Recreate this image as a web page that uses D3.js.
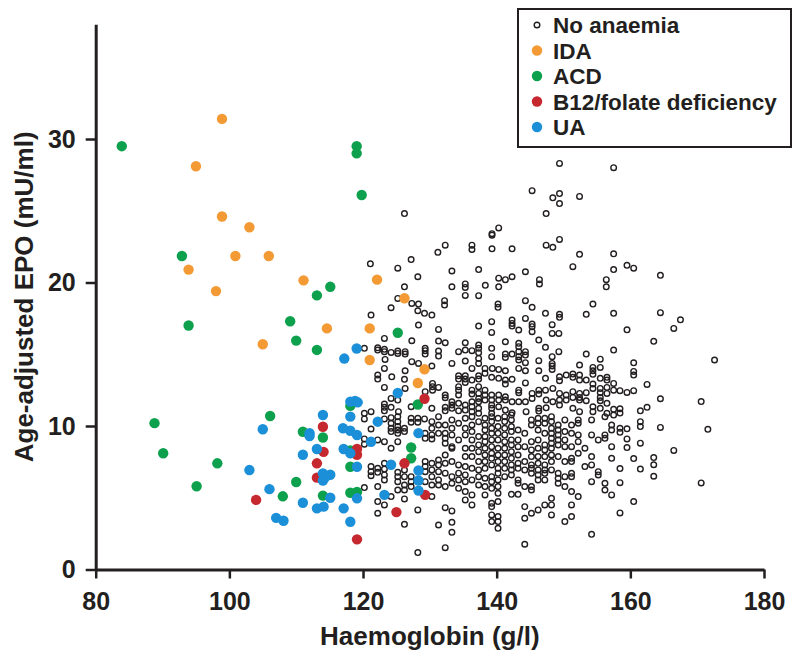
<!DOCTYPE html>
<html><head><meta charset="utf-8">
<script src="https://cdn.jsdelivr.net/npm/d3@7"></script>
<style>
html,body{margin:0;padding:0;background:#fff;}
svg text{font-family:"Liberation Sans",Arial,Helvetica,sans-serif;font-weight:bold;fill:#231f20;}
</style></head>
<body><svg id="c" width="800" height="659"></svg>
<script>
// ---- data: [haemoglobin g/l, age-adjusted EPO mU/ml] ----
const noAnaemia = [
[126.2,24.8],[132.3,22.6],[131.2,22.1],[127.2,21.6],[121.1,21.3],[125.2,21.0],[128.2,20.4],[133.3,20.8],[126.2,19.7],[133.3,19.7],[135.3,19.9],[135.3,19.66],
[149.4,28.3],[145.3,26.4],[148.4,25.9],[149.4,26.2],[149.4,25.5],[152.4,26.0],[147.4,24.8],[140.3,23.8],[139.3,23.4],[139.3,23.3],[149.4,23.0],[147.4,22.6],[148.4,22.45],[152.4,21.96],[136.3,22.6],[136.3,22.3],[139.3,22.35],[142.3,22.35],[137.3,20.9],[151.4,21.1],[144.3,20.75],[140.3,20.3],[141.3,20.2],[142.3,20.4],[138.3,19.8],[140.3,19.7],[146.4,20.2],[146.4,19.9],[156.4,20.2],[156.4,19.7],
[157.5,28.0],[157.5,22.0],[157.5,20.9],[159.5,21.2],[160.5,21.0],[164.5,20.5],
[135.3,19.1],[137.3,19.08],[125.2,18.89],[127.3,18.54],[128.3,18.5],[132.2,18.73],[132.2,18.43],[124.2,18.24],[128.2,18.03],[129.2,17.85],[130.3,17.73],[121.2,17.73],[128.3,17.03],[131.3,16.73],[137.3,16.96],[123.2,16.1],[127.3,15.94],[131.3,15.92],[132.3,15.8],[135.3,15.8],[137.3,15.64],
[120.2,15.41],[122.2,15.45],[122.2,15.29],[123.2,15.34],[123.2,15.18],[124.2,15.13],[125.2,15.22],[125.2,15.06],[126.3,15.18],[126.3,15.01],[129.3,15.41],[129.3,15.25],[129.3,15.01],[131.3,15.22],[134.3,15.18],[135.3,15.29],[136.3,15.25],[137.3,15.41],[137.3,15.11],
[131.3,14.87],[135.3,14.53],[137.3,14.71],[137.3,14.36],[123.3,14.64],[127.3,14.48],[128.3,14.36],[133.3,14.36],[130.3,14.18],[126.3,13.85],[123.2,14.01],[136.3,14.01],
[134.3,13.5],[134.3,13.27],[135.3,13.5],[135.3,13.27],[135.3,13.04],[137.3,13.5],[137.3,13.27],[136.3,13.2],[122.2,13.55],[122.2,13.27],[124.3,13.43],[126.2,13.25],
[130.4,12.97],[130.4,12.74],[130.4,12.5],[129.3,12.39],[131.3,12.69],[123.2,12.69],[126.3,12.62],[132.3,12.16],[132.3,11.97],[134.3,12.74],[134.3,12.5],[134.3,12.16],[136.3,12.5],[136.3,12.23],[137.3,12.74],[137.3,12.27],[137.3,11.92],
[130.3,11.23],[127.2,11.34],[124.2,11.92],[125.2,11.81],[123.2,11.53],[123.2,11.3],[123.2,11.06],[124.2,11.3],[121.2,11.0],[120.2,10.88],[125.3,11.0],
[133.3,11.69],[133.3,11.46],[133.3,11.23],[132.3,11.3],[132.3,11.06],[134.3,11.58],[134.3,11.06],[135.3,11.46],[135.3,11.11],[136.3,11.69],[136.3,11.34],[136.3,11.0],[137.3,11.69],[137.3,11.23],[137.3,10.88],
[144.3,18.73],[145.3,18.27],[140.2,18.5],[140.2,18.27],[147.3,17.85],[149.4,17.78],[149.4,17.57],[154.4,18.5],[153.4,17.78],[157.5,17.85],[139.25,17.27],[142.3,17.38],[142.3,17.15],[142.3,16.96],[144.3,17.5],[145.3,17.1],[145.3,16.92],[143.3,16.69],[145.3,16.57],[148.3,17.06],[148.3,16.45],[149.3,16.45],[139.25,16.52],
[141.3,15.87],[143.3,15.76],[143.3,15.53],[146.3,15.99],[147.3,15.48],[149.3,15.18],[139.25,15.41],[139.25,14.83],[141.3,15.01],[141.3,14.78],[142.3,15.01],[143.3,15.18],[143.3,14.83],[143.3,14.6],[144.3,15.18],[144.3,14.94],[144.3,14.41],[153.4,15.01],[157.5,15.29],[155.5,14.66],[146.3,14.55],
[148.3,14.83],[148.3,14.36],[148.3,14.18],[148.3,13.94],[152.4,14.25],[154.4,14.08],[154.4,13.85],[154.4,13.6],[155.5,14.08],[138.25,14.01],[138.25,13.67],[139.35,14.01],[140.3,13.94],[141.3,13.85],[143.3,14.01],[144.3,13.85],[146.3,13.85],[147.3,13.32],
[150.4,13.55],[151.4,13.62],[151.4,13.39],[149.4,13.43],[149.4,13.16],[152.4,13.55],[152.4,13.2],[153.4,13.2],[155.5,13.32],[156.5,13.39],[156.5,13.2],[139.25,13.39],[140.3,13.32],[141.3,13.2],[141.3,12.92],[142.3,13.25],[143.3,12.5],[143.3,12.32],[144.3,13.0],[145.3,12.27],
[146.3,12.5],[146.3,12.23],[147.3,12.5],[148.4,12.62],[149.4,12.27],[150.4,12.16],[151.4,12.39],[151.4,11.99],[152.4,12.27],[152.4,11.99],[153.4,12.32],[154.4,12.92],[154.4,12.62],[155.5,12.62],[155.5,12.32],[155.5,11.99],[156.5,12.69],[156.5,12.27],[157.5,12.97],[157.5,12.5],
[138.25,12.5],[138.25,12.16],[138.25,11.81],[139.25,12.16],[139.25,11.81],[139.25,11.46],[139.25,11.23],[139.25,10.88],[140.3,12.16],[140.3,11.81],[140.3,11.34],[141.3,12.04],[141.3,11.81],[141.3,11.11],[142.3,11.69],[142.3,10.92],[143.3,11.69],[144.3,11.69],[145.3,11.92],
[146.3,11.23],[146.3,11.04],[147.4,11.81],[147.4,11.27],[148.4,11.69],[149.4,11.81],[149.4,11.46],[150.4,11.81],[151.4,11.23],[152.4,11.81],[152.4,11.0],[153.4,11.76],[154.4,11.34],[154.4,11.0],[155.5,11.76],[155.5,11.23],[156.5,11.58],[156.5,10.88],[157.5,11.16],[157.5,10.76],[144.4,11.0],
[164.5,17.9],[167.5,17.4],[166.5,16.8],[159.5,16.7],[163.5,15.9],[172.6,14.6],[160.5,14.4],[160.5,13.8],[160.5,13.55],[162.5,12.9],[158.45,12.46],[159.5,12.34],[160.5,12.46],[164.5,11.9],[170.6,11.7],[158.45,11.2],[158.45,10.9],[161.5,11.06],[162.5,11.3],
[120.2,10.49],[123.2,10.49],[124.2,10.58],[125.2,10.65],[124.2,10.19],[124.2,9.84],[124.2,9.61],[125.2,10.3],[125.2,9.96],[125.2,9.72],[125.2,9.49],[121.2,9.79],[126.2,9.84],[126.2,9.61],[127.2,10.54],[128.2,10.54],[129.2,10.49],[127.2,10.26],[128.2,10.26],
[130.3,10.3],[130.3,9.84],[129.3,9.49],[129.3,9.14],[130.3,9.38],[130.3,9.1],[131.3,10.65],[131.3,10.07],[131.3,9.49],[132.3,10.07],[132.3,9.49],[132.3,9.14],[132.3,8.8],[133.3,10.42],[133.3,9.84],[133.3,9.38],[133.3,8.56],[134.3,10.19],[134.3,9.03],
[135.3,10.54],[135.3,9.84],[135.3,9.38],[135.3,8.45],[136.3,10.65],[136.3,10.07],[136.3,9.61],[136.3,9.03],[136.3,8.45],[137.3,10.3],[137.3,9.26],[137.3,8.68],[137.3,8.21],
[120.2,9.1],[120.2,8.73],[122.2,9.03],[123.2,8.91],[124.2,8.45],[125.2,8.91],[121.2,7.17],[121.2,6.82],[121.2,6.54],[122.2,7.05],[122.2,6.77],[123.2,7.4],[123.2,7.0],[123.2,6.59],[123.2,6.24],[125.2,6.77],[125.2,6.47],[125.2,6.12],
[126.2,6.94],[126.2,6.47],[126.2,5.89],[126.2,5.54],[127.2,6.47],[127.2,6.12],[127.2,5.78],[129.3,7.52],[129.3,7.17],[129.3,6.82],[129.3,6.12],[130.3,7.4],[130.3,6.94],[130.3,6.47],[130.3,5.89],[130.3,5.08],
[131.3,7.63],[131.3,7.29],[131.3,6.82],[131.3,6.24],[131.3,5.89],[132.3,7.98],[132.3,7.4],[132.3,6.71],[132.3,5.78],[133.3,8.45],[133.3,7.52],[133.3,6.47],[133.3,6.01],[134.3,7.29],[134.3,6.71],[134.3,6.24],[134.3,5.66],
[135.3,7.87],[135.3,7.17],[135.3,6.59],[135.3,6.12],[135.3,5.43],[135.3,4.85],[136.3,7.87],[136.3,7.05],[136.3,6.24],[136.3,5.2],[136.3,4.5],[137.3,7.52],[137.3,6.94],[137.3,6.47],[137.3,5.89],
[122.2,5.78],[122.2,4.73],[122.2,3.92],[120.2,5.71],[123.2,4.5],[124.2,5.08],[125.2,5.54],[126.2,4.92],[128.2,4.15],[126.2,3.15],[132.3,4.31],[133.3,4.08],[133.3,3.29],[133.3,2.59],[131.3,3.1],[132.3,1.52],[128.2,1.18],
[138.25,10.54],[138.25,10.07],[138.25,9.72],[138.25,9.26],[138.25,8.91],[138.25,8.45],[138.25,7.98],[138.25,7.52],[138.25,7.05],[138.25,6.36],[138.25,5.78],[138.25,5.2],
[139.25,10.65],[139.25,10.31],[139.25,9.84],[139.25,9.49],[139.25,9.03],[139.25,8.56],[139.25,8.1],[139.25,7.75],[139.25,7.29],[139.25,6.47],[139.25,6.12],[139.25,5.66],[139.25,4.61],[139.25,4.38],[139.25,3.8],[139.25,3.34],
[140.2,10.54],[140.2,9.96],[140.2,9.49],[140.2,9.03],[140.2,8.45],[140.2,7.98],[140.2,7.52],[140.2,7.05],[140.2,6.7],[140.2,6.24],[140.2,5.78],[140.2,5.31],[140.2,4.73],[140.2,3.69],[140.2,3.34],[140.2,2.87],
[141.2,10.65],[141.2,10.31],[141.2,9.84],[141.2,9.38],[141.2,8.91],[141.2,8.45],[141.2,7.98],[141.2,7.52],[141.2,7.05],[141.2,6.47],
[142.2,10.77],[142.2,10.42],[142.2,9.96],[142.2,9.61],[142.2,9.03],[142.2,8.68],[142.2,8.21],[142.2,7.75],[142.2,7.29],[142.2,6.94],[142.2,6.59],[142.2,5.24],
[143.2,9.72],[143.2,9.03],[143.2,8.56],[143.2,7.98],[143.2,7.4],[143.2,7.05],[143.2,6.24],[143.2,6.01],[143.2,5.24],
[144.2,9.49],[144.2,8.56],[144.2,7.52],[144.2,6.94],[144.2,5.78],[144.2,4.38],[144.2,3.57],[144.2,1.76],
[145.2,10.42],[145.2,10.07],[145.2,8.91],[145.2,8.33],[145.2,7.87],[145.2,7.29],[145.2,7.05],[145.2,6.7],[145.2,5.78],[145.2,5.54],[145.2,3.92],
[146.2,10.54],[146.2,10.19],[146.2,9.72],[146.2,9.03],[146.2,8.45],[146.2,7.87],[146.2,7.4],[146.2,6.94],[146.2,6.59],[146.2,6.24],[146.2,4.15],
[147.2,10.54],[147.2,10.19],[147.2,9.49],[147.2,8.68],[147.2,8.33],[147.2,7.87],[147.2,7.29],[147.2,6.94],[147.2,6.7],[147.2,6.24],[147.2,4.5],
[148.2,10.65],[148.2,10.31],[148.2,9.84],[148.2,9.49],[148.2,9.14],[148.2,8.8],[148.2,8.45],[148.2,7.98],[148.2,7.52],[148.2,6.94],[148.2,4.96],[148.2,4.5],[148.2,3.8],
[149.2,10.07],[149.2,9.72],[149.2,9.38],[149.2,9.03],[149.2,8.68],[149.2,7.87],[149.2,6.7],[149.2,6.36],[149.2,6.01],
[150.2,10.42],[150.2,9.61],[150.2,9.03],[150.2,8.56],[150.2,7.52],[150.2,6.47],[150.2,5.78],[150.2,3.34],
[151.2,10.07],[151.2,9.49],[151.2,8.56],[151.2,7.75],[151.2,7.52],[151.2,6.7],[151.2,6.47],[151.2,5.43],[151.2,4.5],[151.2,3.69],
[152.2,10.42],[152.2,10.19],[152.2,9.38],[152.2,8.91],[152.2,8.1],[152.2,5.08],
[153.2,8.45],[153.2,7.17],
[154.2,10.42],[154.2,9.38],[154.2,7.87],[154.2,7.29],[154.2,6.12],[154.2,2.45],
[155.2,9.03],[155.2,6.82],[155.2,6.59],
[156.2,10.65],[156.2,9.38],[156.2,9.14],[156.2,6.01],[156.2,5.54],
[157.2,10.07],[157.2,9.72],[157.2,8.56],[157.2,7.75],[157.2,5.2],
[158.45,9.84],[158.45,9.56],[159.5,9.8],[161.5,10.3],[161.5,9.96],[164.5,9.9],[171.6,9.77],[159.5,9.1],[159.5,8.5],[161.5,8.8],[166.5,8.3],[160.5,7.73],[163.5,7.8],[163.5,7.3],[158.45,7.03],[161.5,7.0],[163.5,6.5],[170.6,6.03],[158.45,6.05],[160.5,4.73],[158.45,3.94]
];
const ida = [[98.9,31.4],[95.0,28.1],[98.9,24.6],[103.0,23.85],[100.9,21.85],[105.9,21.85],[93.9,20.9],[98.0,19.4],[111.1,20.15],[114.6,16.8],[105.0,15.7],[122.1,20.2],[126.2,18.9],[121.0,16.8],[121.0,14.6],[129.2,13.95],[128.2,13.0]];
const acd = [[83.9,29.5],[119.05,29.5],[119.05,29.0],[119.8,26.1],[92.9,21.85],[115.1,19.7],[113.1,19.1],[93.9,17.0],[109.1,17.3],[110.0,15.95],[113.1,15.3],[125.2,16.5],[118.1,11.4],[106.1,10.7],[88.8,10.2],[111.0,9.6],[114.0,9.2],[118.1,8.3],[90.1,8.1],[98.2,7.4],[118.1,7.16],[110.0,6.1],[95.1,5.8],[108.0,5.1],[114.0,5.15],[118.1,5.35],[119.1,5.4],[128.2,11.5],[127.2,8.5],[127.2,7.75]];
const b12 = [[114.0,9.95],[114.1,8.2],[119.1,8.4],[119.1,8.0],[113.1,7.4],[113.1,6.4],[104.0,4.85],[119.1,2.1],[129.2,11.9],[126.2,7.4],[129.3,5.2],[125.0,4.0]];
const ua = [[119.05,15.4],[117.2,14.7],[125.2,12.3],[118.1,11.7],[118.8,11.75],[119.2,11.65],[118.1,10.65],[114.0,10.77],[105.0,9.77],[112.0,9.5],[112.0,9.3],[117.0,9.84],[118.1,9.67],[119.1,9.37],[113.1,8.4],[117.1,8.4],[118.1,8.1],[111.0,8.0],[119.1,7.16],[103.0,6.93],[114.0,6.7],[114.0,6.2],[115.1,6.6],[114.3,6.4],[106.0,5.6],[115.1,5.0],[111.0,4.65],[113.1,4.26],[114.1,4.38],[119.1,4.96],[117.1,4.26],[107.0,3.6],[108.1,3.4],[118.1,3.33],[122.2,10.3],[121.2,8.9],[124.2,7.3],[128.3,9.5],[128.3,6.9],[128.3,6.2],[128.3,5.5],[123.2,5.2]];

const legendLabels = ["No anaemia","IDA","ACD","B12/folate deficiency","UA"];
const seriesColors = ["none","#f39a34","#0ea14d","#c5282e","#1b8fd8"];
const xMajor = [80,100,120,140,160,180];
const xMinor = [90,110,130,150,170];
const yMajor = [0,10,20,30];
const yMinor = [5,15,25,35];
const xTitle = "Haemoglobin (g/l)";
const yTitle = "Age-adjusted EPO (mU/ml)";

const ink = "#231f20";
const svg = d3.select("#c");
const x = d3.scaleLinear().domain([80,180]).range([95.7,764]);
const y = d3.scaleLinear().domain([0,38]).range([569.5,24.2]);

// axes
const gx = svg.append("g").attr("transform",`translate(0,${y(0)})`);
gx.call(d3.axisBottom(x).tickValues(xMinor).tickSize(6).tickSizeOuter(0).tickFormat(""));
gx.call(d3.axisBottom(x).tickValues(xMajor).tickSize(9).tickSizeOuter(0).tickPadding(14).tickFormat(d3.format("d")));
const gy = svg.append("g").attr("transform",`translate(${x(80)},0)`);
gy.call(d3.axisLeft(y).tickValues(yMinor).tickSize(6).tickSizeOuter(0).tickFormat(""));
gy.call(d3.axisLeft(y).tickValues(yMajor).tickSize(10).tickSizeOuter(0).tickPadding(10).tickFormat(d3.format("d")));
svg.selectAll(".domain").attr("stroke",ink).attr("stroke-width",3);
svg.selectAll(".tick line").attr("stroke",ink).attr("stroke-width",2.5);
svg.selectAll(".tick text").style("font-size","25px").attr("fill",ink);

// titles
svg.append("text").attr("x",(x(80)+x(180))/2).attr("y",645).attr("text-anchor","middle")
  .style("font-size","26px").text(xTitle);
svg.append("text").attr("transform",`translate(33,${(y(0)+y(38))/2}) rotate(-90)`).attr("text-anchor","middle")
  .style("font-size","26px").text(yTitle);

// points
svg.append("g").selectAll("circle").data(noAnaemia).join("circle")
  .attr("cx",d=>x(d[0])).attr("cy",d=>y(d[1])).attr("r",2.8)
  .attr("fill","none").attr("stroke",ink).attr("stroke-width",1.4);
[ida,acd,b12,ua].forEach((s,i)=>{
  svg.append("g").selectAll("circle").data(s).join("circle")
    .attr("cx",d=>x(d[0])).attr("cy",d=>y(d[1])).attr("r",5.2)
    .attr("fill",seriesColors[i+1]);
});

// legend
const lg = svg.append("g");
lg.append("rect").attr("x",518).attr("y",9).attr("width",273).attr("height",138)
  .attr("fill","#fff").attr("stroke",ink).attr("stroke-width",2);
legendLabels.forEach((t,i)=>{
  const cy = 25 + i*25.5;
  if(i===0){
    lg.append("circle").attr("cx",537).attr("cy",cy).attr("r",2.8).attr("fill","none").attr("stroke",ink).attr("stroke-width",1.4);
  } else {
    lg.append("circle").attr("cx",537).attr("cy",cy).attr("r",5.2).attr("fill",seriesColors[i]);
  }
  lg.append("text").attr("x",553).attr("y",cy+8).style("font-size","22.5px").text(t);
});
</script></body></html>
